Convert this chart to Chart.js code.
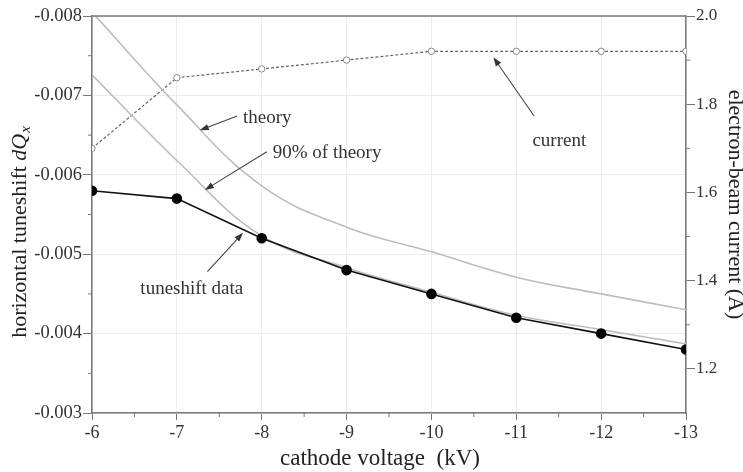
<!DOCTYPE html>
<html>
<head>
<meta charset="utf-8">
<script src="https://cdn.jsdelivr.net/npm/chart.js@4.4.1/dist/chart.umd.min.js"></script>
<style>
  html, body { margin: 0; padding: 0; background: #fff; }
</style>
</head>
<body>
<canvas id="chart" width="743" height="472"></canvas>
<script>
// cathode voltage (kV)
const voltage = [-6, -7, -8, -9, -10, -11, -12, -13];

// horizontal tuneshift dQx (left axis)
const tuneshiftData = [-0.0058, -0.0057, -0.0052, -0.0048, -0.0045, -0.0042, -0.0040, -0.0038];
const theory = [-0.00805, -0.00688, -0.00586, -0.00534, -0.00503, -0.00471, -0.00450, -0.00430];
const theory90 = [-0.00726, -0.00618, -0.00523, -0.00483, -0.00452, -0.00423, -0.00405, -0.00387];

// electron-beam current in A (right axis)
const beamCurrent = [1.70, 1.86, 1.88, 1.90, 1.92, 1.92, 1.92, 1.92];

// tick labels
const xTicks = [-6, -7, -8, -9, -10, -11, -12, -13];
const leftTicks = [-0.008, -0.007, -0.006, -0.005, -0.004, -0.003];
const rightTicks = [1.2, 1.4, 1.6, 1.8, 2.0];
const xMinor = [-6.5, -7.5, -8.5, -9.5, -10.5, -11.5, -12.5];
const leftMinor = [-0.0075, -0.0065, -0.0055, -0.0045, -0.0035];
const rightMinor = [1.3, 1.5, 1.7, 1.9];

// labels with arrows, placed in data units (x, left axis)
const notes = [
  { text: 'theory', at: [-7.78, -0.00672], from: [-7.71, -0.00674], to: [-7.27, -0.00656] },
  { text: '90% of theory', at: [-8.13, -0.00627], from: [-8.06, -0.00629], to: [-7.33, -0.00581] },
  { text: 'tuneshift data', at: [-6.57, -0.00456], from: [-7.36, -0.00478], to: [-7.78, -0.00527] },
  { text: 'current', at: [-11.19, -0.00643], from: [-11.21, -0.00674], to: [-10.73, -0.00748] }
];

const SERIF = '"Liberation Serif", "DejaVu Serif", serif';
const pts = vals => voltage.map((v, i) => ({ x: v, y: vals[i] }));

function arrow(ctx, x1, y1, x2, y2) {
  const ang = Math.atan2(y2 - y1, x2 - x1);
  const len = 9, half = 3.2;
  ctx.beginPath();
  ctx.moveTo(x1, y1);
  ctx.lineTo(x2 - Math.cos(ang) * len * 0.8, y2 - Math.sin(ang) * len * 0.8);
  ctx.stroke();
  ctx.beginPath();
  ctx.moveTo(x2, y2);
  ctx.lineTo(x2 - Math.cos(ang) * len - Math.sin(ang) * half, y2 - Math.sin(ang) * len + Math.cos(ang) * half);
  ctx.lineTo(x2 - Math.cos(ang) * len + Math.sin(ang) * half, y2 - Math.sin(ang) * len - Math.cos(ang) * half);
  ctx.closePath();
  ctx.fill();
}

const overlay = {
  id: 'overlay',
  afterDraw(chart) {
    const { ctx, chartArea: a, scales } = chart;
    const sx = scales.x, sy = scales.y, sy2 = scales.y2;
    ctx.save();

    // top frame line
    ctx.strokeStyle = '#777';
    ctx.lineWidth = 1.5;
    ctx.beginPath();
    ctx.moveTo(a.left, a.top);
    ctx.lineTo(a.right, a.top);
    ctx.stroke();

    // minor ticks
    ctx.lineWidth = 1;
    ctx.beginPath();
    xMinor.forEach(v => {
      const px = sx.getPixelForValue(v);
      ctx.moveTo(px, a.bottom); ctx.lineTo(px, a.bottom + 4);
    });
    leftMinor.forEach(v => {
      const py = sy.getPixelForValue(v);
      ctx.moveTo(a.left, py); ctx.lineTo(a.left - 4, py);
    });
    rightMinor.forEach(v => {
      const py = sy2.getPixelForValue(v);
      ctx.moveTo(a.right, py); ctx.lineTo(a.right + 4, py);
    });
    ctx.stroke();

    // annotations
    ctx.strokeStyle = '#444';
    ctx.fillStyle = '#333';
    ctx.lineWidth = 1.1;
    ctx.font = '19px ' + SERIF;
    ctx.textBaseline = 'middle';
    ctx.textAlign = 'left';
    notes.forEach(n => {
      ctx.fillText(n.text, sx.getPixelForValue(n.at[0]), sy.getPixelForValue(n.at[1]));
      arrow(ctx,
        sx.getPixelForValue(n.from[0]), sy.getPixelForValue(n.from[1]),
        sx.getPixelForValue(n.to[0]), sy.getPixelForValue(n.to[1]));
    });

    // axis titles
    ctx.fillStyle = '#222';
    const midY = (a.top + a.bottom) / 2;

    // bottom
    ctx.font = '23px ' + SERIF;
    ctx.textAlign = 'center';
    ctx.fillText('cathode voltage  (kV)', (a.left + a.right) / 2 - 9, 459);

    // left, with italic dQ and subscript x
    ctx.save();
    ctx.translate(20, midY + 18);
    ctx.rotate(-Math.PI / 2);
    ctx.textAlign = 'left';
    const p1 = 'horizontal tuneshift ';
    ctx.font = '22px ' + SERIF;
    const w1 = ctx.measureText(p1).width;
    ctx.font = 'italic 22px ' + SERIF;
    const w2 = ctx.measureText('dQ').width;
    ctx.font = 'italic 15px ' + SERIF;
    const w3 = ctx.measureText('x').width;
    let cx = -(w1 + w2 + w3) / 2;
    ctx.font = '22px ' + SERIF;
    ctx.fillText(p1, cx, 0);
    cx += w1;
    ctx.font = 'italic 22px ' + SERIF;
    ctx.fillText('dQ', cx, 0);
    cx += w2;
    ctx.font = 'italic 15px ' + SERIF;
    ctx.fillText('x', cx + 1, 6);
    ctx.restore();

    // right
    ctx.save();
    ctx.translate(735, midY - 10);
    ctx.rotate(Math.PI / 2);
    ctx.font = '22px ' + SERIF;
    ctx.textAlign = 'center';
    ctx.fillText('electron-beam current (A)', 0, 0);
    ctx.restore();

    ctx.restore();
  }
};

new Chart(document.getElementById('chart').getContext('2d'), {
  type: 'line',
  data: {
    datasets: [
      {
        label: 'tuneshift data',
        data: pts(tuneshiftData),
        yAxisID: 'y',
        borderColor: '#111',
        backgroundColor: '#111',
        borderWidth: 1.6,
        pointRadius: 4.5,
        pointBackgroundColor: '#000',
        pointBorderColor: '#000',
        tension: 0
      },
      {
        label: '90% of theory',
        data: pts(theory90),
        yAxisID: 'y',
        borderColor: '#bdbdbd',
        borderWidth: 1.6,
        pointRadius: 0,
        tension: 0.4
      },
      {
        label: 'theory',
        data: pts(theory),
        yAxisID: 'y',
        borderColor: '#bdbdbd',
        borderWidth: 1.6,
        pointRadius: 0,
        tension: 0.4
      },
      {
        label: 'current',
        data: pts(beamCurrent),
        yAxisID: 'y2',
        borderColor: '#666',
        borderWidth: 1.2,
        borderDash: [3, 2],
        pointRadius: 3.2,
        pointBackgroundColor: '#fff',
        pointBorderColor: '#888',
        pointBorderWidth: 1,
        tension: 0
      }
    ]
  },
  options: {
    responsive: false,
    animation: false,
    layout: { padding: { top: 16, left: 0, right: 0, bottom: 0 } },
    plugins: {
      legend: { display: false },
      tooltip: { enabled: false }
    },
    scales: {
      x: {
        type: 'linear',
        reverse: true,
        min: -13,
        max: -6,
        afterBuildTicks: s => { s.ticks = xTicks.map(v => ({ value: v })); },
        afterFit: s => { s.height = 59; },
        grid: { color: '#ececec', tickColor: '#777', tickLength: 7 },
        border: { color: '#777', width: 1.5 },
        ticks: {
          padding: 2,
          color: '#333',
          font: { family: SERIF, size: 18 },
          maxRotation: 0,
          callback: v => String(v)
        }
      },
      y: {
        position: 'left',
        reverse: true,
        min: -0.008,
        max: -0.003,
        afterBuildTicks: s => { s.ticks = leftTicks.map(v => ({ value: v })); },
        afterFit: s => { s.width = 92; },
        grid: { color: '#ececec', tickColor: '#777', tickLength: 9 },
        border: { color: '#777', width: 1.5 },
        ticks: {
          padding: 1,
          color: '#333',
          font: { family: SERIF, size: 18.5 },
          callback: v => v.toFixed(3)
        }
      },
      y2: {
        position: 'right',
        min: 1.1,
        max: 2.0,
        afterBuildTicks: s => { s.ticks = rightTicks.map(v => ({ value: v })); },
        afterFit: s => { s.width = 57; },
        grid: { drawOnChartArea: false, tickColor: '#777', tickLength: 9 },
        border: { color: '#777', width: 1.5 },
        ticks: {
          padding: 1,
          color: '#333',
          font: { family: SERIF, size: 17 },
          callback: v => v.toFixed(1)
        }
      }
    }
  },
  plugins: [overlay]
});
</script>
</body>
</html>
